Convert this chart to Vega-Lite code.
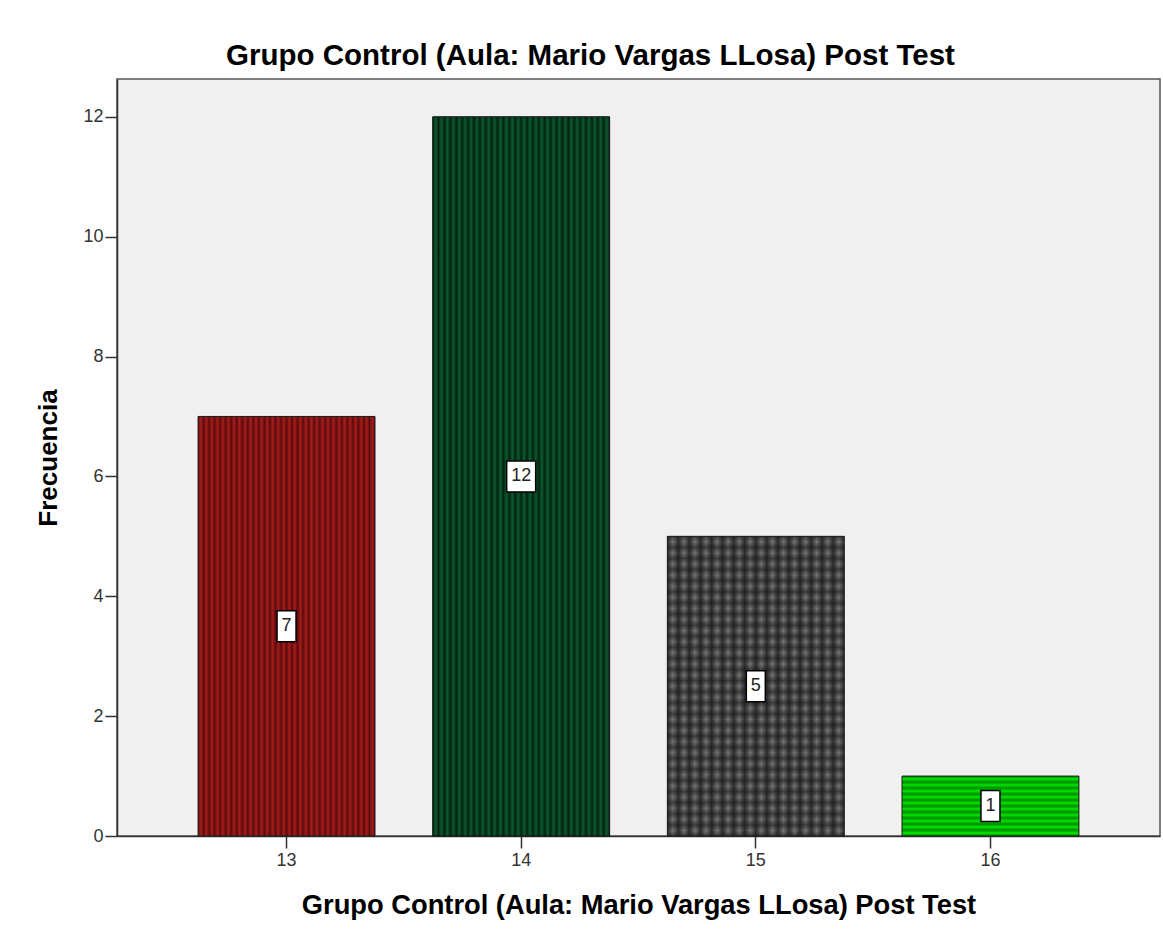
{
"$schema": "https://vega.github.io/schema/vega-lite/v6.json",
"width": 1043, "height": 757,
"autosize": {"type": "none"},
"padding": {"left": 117, "top": 79, "right": 3, "bottom": 101},
"background": "#ffffff",
"config": {
  "font": "Liberation Sans",
  "view": {"fill": "#f0f0f0", "stroke": "#555555", "strokeWidth": 1.5},
  "axis": {"grid": false, "domainColor": "#333333", "domainWidth": 1.5, "tickColor": "#333333", "tickWidth": 1.5, "tickSize": 12, "labelFont": "Liberation Sans", "labelFontSize": 18, "labelColor": "#333333", "titleFont": "Liberation Sans", "titleFontWeight": "bold", "titleColor": "#000000"}
},
"title": {"text": "Grupo Control (Aula: Mario Vargas LLosa) Post Test", "fontSize": 29.5, "fontWeight": "bold", "font": "Liberation Sans", "color": "#000000", "anchor": "middle", "frame": "group", "dx": -48, "offset": 8},
"data": {"values": [
  {"score": 13, "count": 7},
  {"score": 14, "count": 12},
  {"score": 15, "count": 5},
  {"score": 16, "count": 1}
]},
"encoding": {"x": {"field": "score", "type": "ordinal", "scale": {"type": "band", "paddingInner": 0.246, "paddingOuter": 0.3455}, "axis": {"title": "Grupo Control (Aula: Mario Vargas LLosa) Post Test", "titleFontSize": 27.3, "labelAngle": 0, "labelPadding": 3, "titlePadding": 22}}},
"layer": [
  {
    "encoding": {"y": {"field": "count", "type": "quantitative", "scale": {"domain": [0, 12.63], "nice": false}, "axis": {"title": "Frecuencia", "titleFontSize": 26, "values": [0, 2, 4, 6, 8, 10, 12], "labelPadding": 2, "titlePadding": 21}}},
    "layer": [
      {"transform": [{"filter": "datum.score == 13"}], "mark": {"type": "bar", "stroke": "#1a1a1a", "strokeWidth": 1, "fill": {"gradient": "linear", "x1": 0, "y1": 0, "x2": 1, "y2": 0, "stops": [{"offset":0,"color":"#5a0c0c"},{"offset":0.0156,"color":"#a81c1c"},{"offset":0.0313,"color":"#5a0c0c"},{"offset":0.0469,"color":"#a81c1c"},{"offset":0.0625,"color":"#5a0c0c"},{"offset":0.0781,"color":"#a81c1c"},{"offset":0.0938,"color":"#5a0c0c"},{"offset":0.1094,"color":"#a81c1c"},{"offset":0.125,"color":"#5a0c0c"},{"offset":0.1406,"color":"#a81c1c"},{"offset":0.1563,"color":"#5a0c0c"},{"offset":0.1719,"color":"#a81c1c"},{"offset":0.1875,"color":"#5a0c0c"},{"offset":0.2031,"color":"#a81c1c"},{"offset":0.2188,"color":"#5a0c0c"},{"offset":0.2344,"color":"#a81c1c"},{"offset":0.25,"color":"#5a0c0c"},{"offset":0.2656,"color":"#a81c1c"},{"offset":0.2813,"color":"#5a0c0c"},{"offset":0.2969,"color":"#a81c1c"},{"offset":0.3125,"color":"#5a0c0c"},{"offset":0.3281,"color":"#a81c1c"},{"offset":0.3438,"color":"#5a0c0c"},{"offset":0.3594,"color":"#a81c1c"},{"offset":0.375,"color":"#5a0c0c"},{"offset":0.3906,"color":"#a81c1c"},{"offset":0.4063,"color":"#5a0c0c"},{"offset":0.4219,"color":"#a81c1c"},{"offset":0.4375,"color":"#5a0c0c"},{"offset":0.4531,"color":"#a81c1c"},{"offset":0.4688,"color":"#5a0c0c"},{"offset":0.4844,"color":"#a81c1c"},{"offset":0.5,"color":"#5a0c0c"},{"offset":0.5156,"color":"#a81c1c"},{"offset":0.5313,"color":"#5a0c0c"},{"offset":0.5469,"color":"#a81c1c"},{"offset":0.5625,"color":"#5a0c0c"},{"offset":0.5781,"color":"#a81c1c"},{"offset":0.5938,"color":"#5a0c0c"},{"offset":0.6094,"color":"#a81c1c"},{"offset":0.625,"color":"#5a0c0c"},{"offset":0.6406,"color":"#a81c1c"},{"offset":0.6563,"color":"#5a0c0c"},{"offset":0.6719,"color":"#a81c1c"},{"offset":0.6875,"color":"#5a0c0c"},{"offset":0.7031,"color":"#a81c1c"},{"offset":0.7188,"color":"#5a0c0c"},{"offset":0.7344,"color":"#a81c1c"},{"offset":0.75,"color":"#5a0c0c"},{"offset":0.7656,"color":"#a81c1c"},{"offset":0.7813,"color":"#5a0c0c"},{"offset":0.7969,"color":"#a81c1c"},{"offset":0.8125,"color":"#5a0c0c"},{"offset":0.8281,"color":"#a81c1c"},{"offset":0.8438,"color":"#5a0c0c"},{"offset":0.8594,"color":"#a81c1c"},{"offset":0.875,"color":"#5a0c0c"},{"offset":0.8906,"color":"#a81c1c"},{"offset":0.9063,"color":"#5a0c0c"},{"offset":0.9219,"color":"#a81c1c"},{"offset":0.9375,"color":"#5a0c0c"},{"offset":0.9531,"color":"#a81c1c"},{"offset":0.9688,"color":"#5a0c0c"},{"offset":0.9844,"color":"#a81c1c"},{"offset":1,"color":"#5a0c0c"}]}}},
      {"transform": [{"filter": "datum.score == 14"}], "mark": {"type": "bar", "stroke": "#111111", "strokeWidth": 1, "fill": {"gradient": "linear", "x1": 0, "y1": 0, "x2": 1, "y2": 0, "stops": [{"offset":0,"color":"#03230f"},{"offset":0.0167,"color":"#0c5a30"},{"offset":0.0333,"color":"#03230f"},{"offset":0.05,"color":"#0c5a30"},{"offset":0.0667,"color":"#03230f"},{"offset":0.0833,"color":"#0c5a30"},{"offset":0.1,"color":"#03230f"},{"offset":0.1167,"color":"#0c5a30"},{"offset":0.1333,"color":"#03230f"},{"offset":0.15,"color":"#0c5a30"},{"offset":0.1667,"color":"#03230f"},{"offset":0.1833,"color":"#0c5a30"},{"offset":0.2,"color":"#03230f"},{"offset":0.2167,"color":"#0c5a30"},{"offset":0.2333,"color":"#03230f"},{"offset":0.25,"color":"#0c5a30"},{"offset":0.2667,"color":"#03230f"},{"offset":0.2833,"color":"#0c5a30"},{"offset":0.3,"color":"#03230f"},{"offset":0.3167,"color":"#0c5a30"},{"offset":0.3333,"color":"#03230f"},{"offset":0.35,"color":"#0c5a30"},{"offset":0.3667,"color":"#03230f"},{"offset":0.3833,"color":"#0c5a30"},{"offset":0.4,"color":"#03230f"},{"offset":0.4167,"color":"#0c5a30"},{"offset":0.4333,"color":"#03230f"},{"offset":0.45,"color":"#0c5a30"},{"offset":0.4667,"color":"#03230f"},{"offset":0.4833,"color":"#0c5a30"},{"offset":0.5,"color":"#03230f"},{"offset":0.5167,"color":"#0c5a30"},{"offset":0.5333,"color":"#03230f"},{"offset":0.55,"color":"#0c5a30"},{"offset":0.5667,"color":"#03230f"},{"offset":0.5833,"color":"#0c5a30"},{"offset":0.6,"color":"#03230f"},{"offset":0.6167,"color":"#0c5a30"},{"offset":0.6333,"color":"#03230f"},{"offset":0.65,"color":"#0c5a30"},{"offset":0.6667,"color":"#03230f"},{"offset":0.6833,"color":"#0c5a30"},{"offset":0.7,"color":"#03230f"},{"offset":0.7167,"color":"#0c5a30"},{"offset":0.7333,"color":"#03230f"},{"offset":0.75,"color":"#0c5a30"},{"offset":0.7667,"color":"#03230f"},{"offset":0.7833,"color":"#0c5a30"},{"offset":0.8,"color":"#03230f"},{"offset":0.8167,"color":"#0c5a30"},{"offset":0.8333,"color":"#03230f"},{"offset":0.85,"color":"#0c5a30"},{"offset":0.8667,"color":"#03230f"},{"offset":0.8833,"color":"#0c5a30"},{"offset":0.9,"color":"#03230f"},{"offset":0.9167,"color":"#0c5a30"},{"offset":0.9333,"color":"#03230f"},{"offset":0.95,"color":"#0c5a30"},{"offset":0.9667,"color":"#03230f"},{"offset":0.9833,"color":"#0c5a30"},{"offset":1,"color":"#03230f"}]}}},
      {"transform": [{"filter": "datum.score == 15"}], "mark": {"type": "bar", "stroke": "#1a1a1a", "strokeWidth": 1, "fill": {"gradient": "linear", "x1": 0, "y1": 0, "x2": 1, "y2": 0, "stops": [{"offset":0,"color":"#2e2e2e"},{"offset":0.0313,"color":"#777777"},{"offset":0.0625,"color":"#2e2e2e"},{"offset":0.0938,"color":"#777777"},{"offset":0.125,"color":"#2e2e2e"},{"offset":0.1563,"color":"#777777"},{"offset":0.1875,"color":"#2e2e2e"},{"offset":0.2188,"color":"#777777"},{"offset":0.25,"color":"#2e2e2e"},{"offset":0.2813,"color":"#777777"},{"offset":0.3125,"color":"#2e2e2e"},{"offset":0.3438,"color":"#777777"},{"offset":0.375,"color":"#2e2e2e"},{"offset":0.4063,"color":"#777777"},{"offset":0.4375,"color":"#2e2e2e"},{"offset":0.4688,"color":"#777777"},{"offset":0.5,"color":"#2e2e2e"},{"offset":0.5313,"color":"#777777"},{"offset":0.5625,"color":"#2e2e2e"},{"offset":0.5938,"color":"#777777"},{"offset":0.625,"color":"#2e2e2e"},{"offset":0.6563,"color":"#777777"},{"offset":0.6875,"color":"#2e2e2e"},{"offset":0.7188,"color":"#777777"},{"offset":0.75,"color":"#2e2e2e"},{"offset":0.7813,"color":"#777777"},{"offset":0.8125,"color":"#2e2e2e"},{"offset":0.8438,"color":"#777777"},{"offset":0.875,"color":"#2e2e2e"},{"offset":0.9063,"color":"#777777"},{"offset":0.9375,"color":"#2e2e2e"},{"offset":0.9688,"color":"#777777"},{"offset":1,"color":"#2e2e2e"}]}}},
      {"transform": [{"filter": "datum.score == 15"}], "mark": {"type": "bar", "strokeWidth": 0, "fill": {"gradient": "linear", "x1": 0, "y1": 0, "x2": 0, "y2": 1, "stops": [{"offset":0,"color":"rgba(20,20,20,0.55)"},{"offset":0.0185,"color":"rgba(20,20,20,0)"},{"offset":0.037,"color":"rgba(20,20,20,0.55)"},{"offset":0.0556,"color":"rgba(20,20,20,0)"},{"offset":0.0741,"color":"rgba(20,20,20,0.55)"},{"offset":0.0926,"color":"rgba(20,20,20,0)"},{"offset":0.1111,"color":"rgba(20,20,20,0.55)"},{"offset":0.1296,"color":"rgba(20,20,20,0)"},{"offset":0.1481,"color":"rgba(20,20,20,0.55)"},{"offset":0.1667,"color":"rgba(20,20,20,0)"},{"offset":0.1852,"color":"rgba(20,20,20,0.55)"},{"offset":0.2037,"color":"rgba(20,20,20,0)"},{"offset":0.2222,"color":"rgba(20,20,20,0.55)"},{"offset":0.2407,"color":"rgba(20,20,20,0)"},{"offset":0.2593,"color":"rgba(20,20,20,0.55)"},{"offset":0.2778,"color":"rgba(20,20,20,0)"},{"offset":0.2963,"color":"rgba(20,20,20,0.55)"},{"offset":0.3148,"color":"rgba(20,20,20,0)"},{"offset":0.3333,"color":"rgba(20,20,20,0.55)"},{"offset":0.3519,"color":"rgba(20,20,20,0)"},{"offset":0.3704,"color":"rgba(20,20,20,0.55)"},{"offset":0.3889,"color":"rgba(20,20,20,0)"},{"offset":0.4074,"color":"rgba(20,20,20,0.55)"},{"offset":0.4259,"color":"rgba(20,20,20,0)"},{"offset":0.4444,"color":"rgba(20,20,20,0.55)"},{"offset":0.463,"color":"rgba(20,20,20,0)"},{"offset":0.4815,"color":"rgba(20,20,20,0.55)"},{"offset":0.5,"color":"rgba(20,20,20,0)"},{"offset":0.5185,"color":"rgba(20,20,20,0.55)"},{"offset":0.537,"color":"rgba(20,20,20,0)"},{"offset":0.5556,"color":"rgba(20,20,20,0.55)"},{"offset":0.5741,"color":"rgba(20,20,20,0)"},{"offset":0.5926,"color":"rgba(20,20,20,0.55)"},{"offset":0.6111,"color":"rgba(20,20,20,0)"},{"offset":0.6296,"color":"rgba(20,20,20,0.55)"},{"offset":0.6481,"color":"rgba(20,20,20,0)"},{"offset":0.6667,"color":"rgba(20,20,20,0.55)"},{"offset":0.6852,"color":"rgba(20,20,20,0)"},{"offset":0.7037,"color":"rgba(20,20,20,0.55)"},{"offset":0.7222,"color":"rgba(20,20,20,0)"},{"offset":0.7407,"color":"rgba(20,20,20,0.55)"},{"offset":0.7593,"color":"rgba(20,20,20,0)"},{"offset":0.7778,"color":"rgba(20,20,20,0.55)"},{"offset":0.7963,"color":"rgba(20,20,20,0)"},{"offset":0.8148,"color":"rgba(20,20,20,0.55)"},{"offset":0.8333,"color":"rgba(20,20,20,0)"},{"offset":0.8519,"color":"rgba(20,20,20,0.55)"},{"offset":0.8704,"color":"rgba(20,20,20,0)"},{"offset":0.8889,"color":"rgba(20,20,20,0.55)"},{"offset":0.9074,"color":"rgba(20,20,20,0)"},{"offset":0.9259,"color":"rgba(20,20,20,0.55)"},{"offset":0.9444,"color":"rgba(20,20,20,0)"},{"offset":0.963,"color":"rgba(20,20,20,0.55)"},{"offset":0.9815,"color":"rgba(20,20,20,0)"},{"offset":1,"color":"rgba(20,20,20,0.55)"}]}}},
      {"transform": [{"filter": "datum.score == 16"}], "mark": {"type": "bar", "stroke": "#1a1a1a", "strokeWidth": 1, "fill": {"gradient": "linear", "x1": 0, "y1": 0, "x2": 0, "y2": 1, "stops": [{"offset":0,"color":"#008800"},{"offset":0.05,"color":"#00e600"},{"offset":0.1,"color":"#008800"},{"offset":0.15,"color":"#00e600"},{"offset":0.2,"color":"#008800"},{"offset":0.25,"color":"#00e600"},{"offset":0.3,"color":"#008800"},{"offset":0.35,"color":"#00e600"},{"offset":0.4,"color":"#008800"},{"offset":0.45,"color":"#00e600"},{"offset":0.5,"color":"#008800"},{"offset":0.55,"color":"#00e600"},{"offset":0.6,"color":"#008800"},{"offset":0.65,"color":"#00e600"},{"offset":0.7,"color":"#008800"},{"offset":0.75,"color":"#00e600"},{"offset":0.8,"color":"#008800"},{"offset":0.85,"color":"#00e600"},{"offset":0.9,"color":"#008800"},{"offset":0.95,"color":"#00e600"},{"offset":1,"color":"#008800"}]}}}
    ]
  },
  {
    "encoding": {"y": {"field": "count", "type": "quantitative", "scale": {"domain": [0, 25.26], "nice": false}, "axis": null}},
    "layer": [
      {"mark": {"type": "point", "filled": true, "fill": "#ffffff", "stroke": "#000000", "strokeWidth": 1.5, "opacity": 1, "size": 961},
       "encoding": {"shape": {"condition": {"test": "datum.count >= 10", "value": "M-0.935,-1L0.935,-1L0.935,1L-0.935,1Z"}, "value": "M-0.613,-1L0.613,-1L0.613,1L-0.613,1Z"}}},
      {"mark": {"type": "text", "fontSize": 18, "color": "#222222", "font": "Liberation Sans"},
       "encoding": {"text": {"field": "count", "type": "quantitative"}}}
    ]
  }
],
"resolve": {"scale": {"y": "independent"}}
}
